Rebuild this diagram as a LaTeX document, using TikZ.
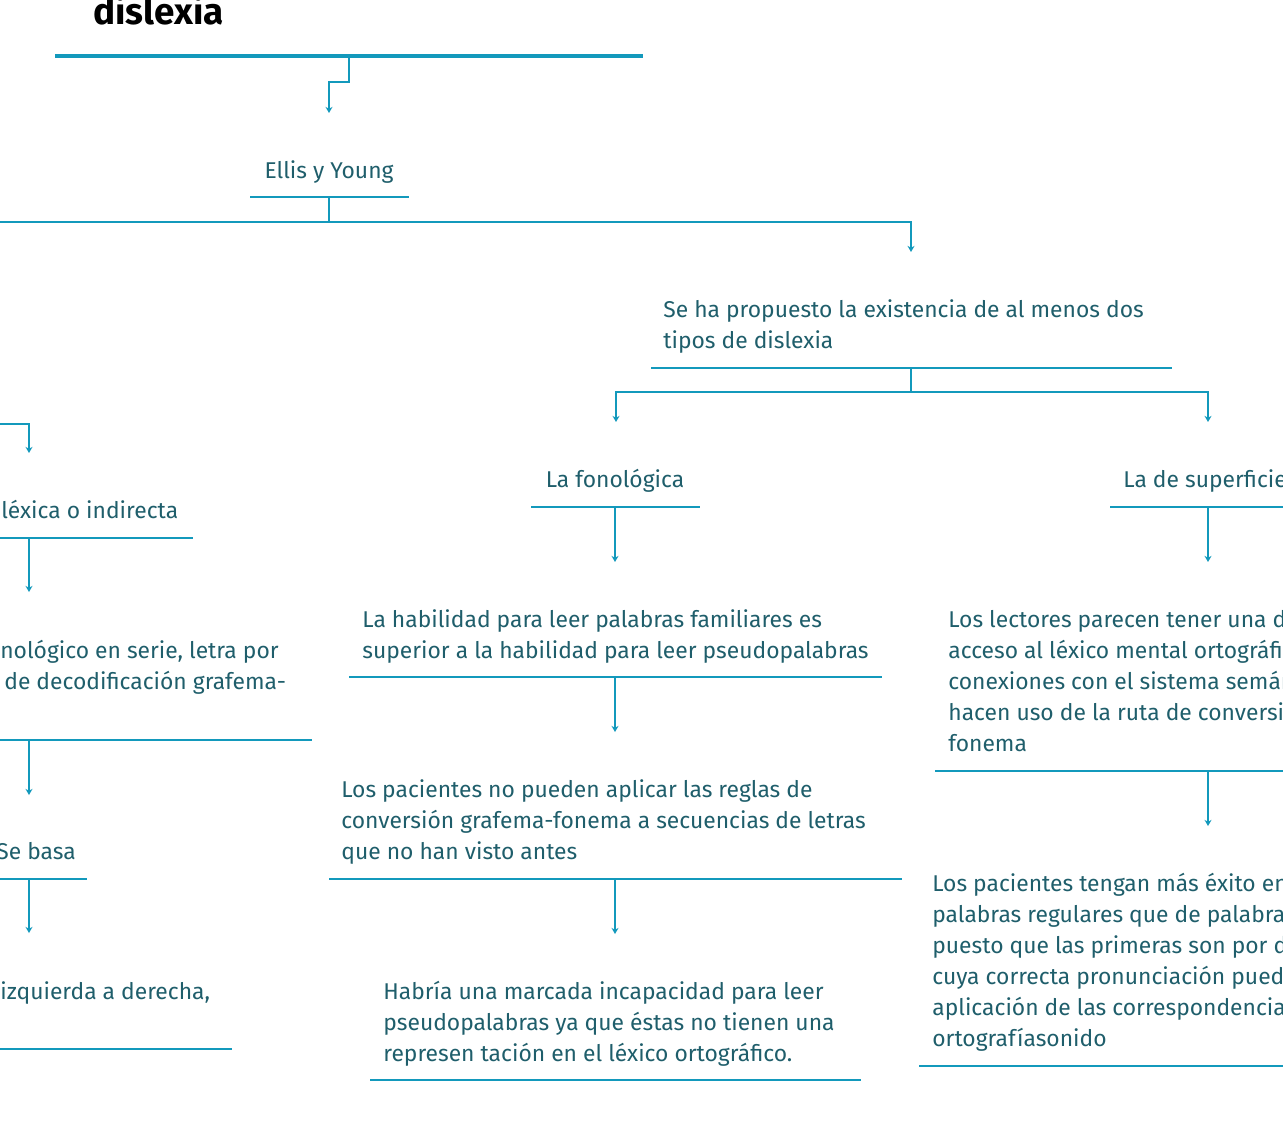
\documentclass[tikz,border=0pt]{standalone}
\usepackage{fontspec}
\setmainfont{Fira Sans}
\usetikzlibrary{arrows.meta}

\definecolor{mapline}{HTML}{1399BC}
\definecolor{maptext}{HTML}{1F5E6B}

\tikzset{
  txt/.style={anchor=base west, inner sep=0pt, align=left, text=maptext,
    font=\fontsize{13}{17.6}\selectfont},
  uline/.style={draw=mapline, line width=1.1pt},
  conn/.style={draw=mapline, line width=1.1pt, -{Stealth[length=3.5pt,width=4pt]}},
}

\begin{document}
\begin{tikzpicture}[x=0.02cm, y=-0.02cm]
	\useasboundingbox (0,0) rectangle (1283,1142);

	% Title (base = last line)
	\node[anchor=base west, inner sep=0pt, font=\fontsize{21}{24}\selectfont\bfseries] (title) at (93,25) {dislexia};
	\draw[mapline, line width=2.8pt] (55,56) -- (643,56);
	\coordinate (titleU) at (349,56);
	\coordinate (ellisT) at (329,113);
	\draw[conn] (titleU) -- ++(0,26) -| (ellisT);

	% Ellis y Young
	\node[txt, anchor=base] (ellis) at (329,178) {Ellis y Young};
	\draw[uline] (250,197) -- (409,197);
	\coordinate (ellisU) at (329,197);
	\coordinate (ellisJ) at (329,222);
	\coordinate (leftJ) at (-5,222);
	\coordinate (tiposT) at (911,252);
	\draw[uline] (ellisU) -- (ellisJ);
	\draw[conn] (leftJ) -| (tiposT);

	% Left branch: ruta lexica
	\coordinate (lexJ) at (-5,424);
	\coordinate (lexT) at (29,453);
	\draw[conn] (lexJ) -| (lexT);
	\node[txt] (lex) at (1,518) {léxica o indirecta};
	\draw[uline] (-5,538) -- (193,538);
	\coordinate (lexU) at (29,538);
	\coordinate (serieT) at (29,592);
	\draw[conn] (lexU) -- (serieT);

	\node[txt] (serie) at (0,689) {nológico en serie, letra por\\\hspace*{0.08cm}de decodificación grafema-};
	\draw[uline] (-5,740) -- (312,740);
	\coordinate (serieU) at (29,740);
	\coordinate (basaT) at (29,795);
	\draw[conn] (serieU) -- (basaT);

	\node[txt] (basa) at (-4,859) {Se basa};
	\draw[uline] (-5,879) -- (87,879);
	\coordinate (basaU) at (29,879);
	\coordinate (izqT) at (29,933);
	\draw[conn] (basaU) -- (izqT);

	\node[txt] (izq) at (0,999) {izquierda a derecha,};
	\draw[uline] (-5,1049) -- (232,1049);

	% Tipos de dislexia
	\node[txt] (tipos) at (663,348) {Se ha propuesto la existencia de al menos dos\\tipos de dislexia};
	\draw[uline] (651,368) -- (1172,368);
	\coordinate (tiposU) at (911,368);
	\coordinate (tiposJ) at (911,392);
	\coordinate (fonT) at (616,422);
	\coordinate (supT) at (1208,422);
	\draw[uline] (tiposU) -- (tiposJ);
	\draw[conn] (tiposJ) -| (fonT);
	\draw[conn] (tiposJ) -| (supT);

	% La fonologica
	\node[txt, anchor=base] (fon) at (615,487) {La fonológica};
	\draw[uline] (531,507) -- (700,507);
	\coordinate (fonU) at (615,507);
	\coordinate (habT) at (615,562);
	\draw[conn] (fonU) -- (habT);

	\node[txt] (hab) at (362,658) {La habilidad para leer palabras familiares es\\superior a la habilidad para leer pseudopalabras};
	\draw[uline] (349,677) -- (882,677);
	\coordinate (habU) at (615,677);
	\coordinate (reglT) at (615,732);
	\draw[conn] (habU) -- (reglT);

	\node[txt] (regl) at (341,859) {Los pacientes no pueden aplicar las reglas de\\conversión grafema-fonema a secuencias de letras\\que no han visto antes};
	\draw[uline] (329,879) -- (902,879);
	\coordinate (reglU) at (615,879);
	\coordinate (incT) at (615,934);
	\draw[conn] (reglU) -- (incT);

	\node[txt] (inc) at (383,1061) {Habría una marcada incapacidad para leer\\pseudopalabras ya que éstas no tienen una\\represen tación en el léxico ortográfico.};
	\draw[uline] (370,1080) -- (861,1080);

	% La de superficie
	\node[txt] (sup) at (1123,487) {La de superficie};
	\draw[uline] (1110,507) -- (1290,507);
	\coordinate (supU) at (1208,507);
	\coordinate (lectT) at (1208,562);
	\draw[conn] (supU) -- (lectT);

	\node[txt] (lect) at (948,751) {Los lectores parecen tener una dificultad\\acceso al léxico mental ortográfico\\conexiones con el sistema semántico\\hacen uso de la ruta de conversión\\fonema};
	\draw[uline] (935,771) -- (1290,771);
	\coordinate (lectU) at (1208,771);
	\coordinate (exitoT) at (1208,826);
	\draw[conn] (lectU) -- (exitoT);

	\node[txt] (exito) at (932,1046) {Los pacientes tengan más éxito en\\palabras regulares que de palabras\\puesto que las primeras son por definición\\cuya correcta pronunciación puede\\aplicación de las correspondencias\\ortografíasonido};
	\draw[uline] (919,1066) -- (1290,1066);
\end{tikzpicture}
\end{document}
